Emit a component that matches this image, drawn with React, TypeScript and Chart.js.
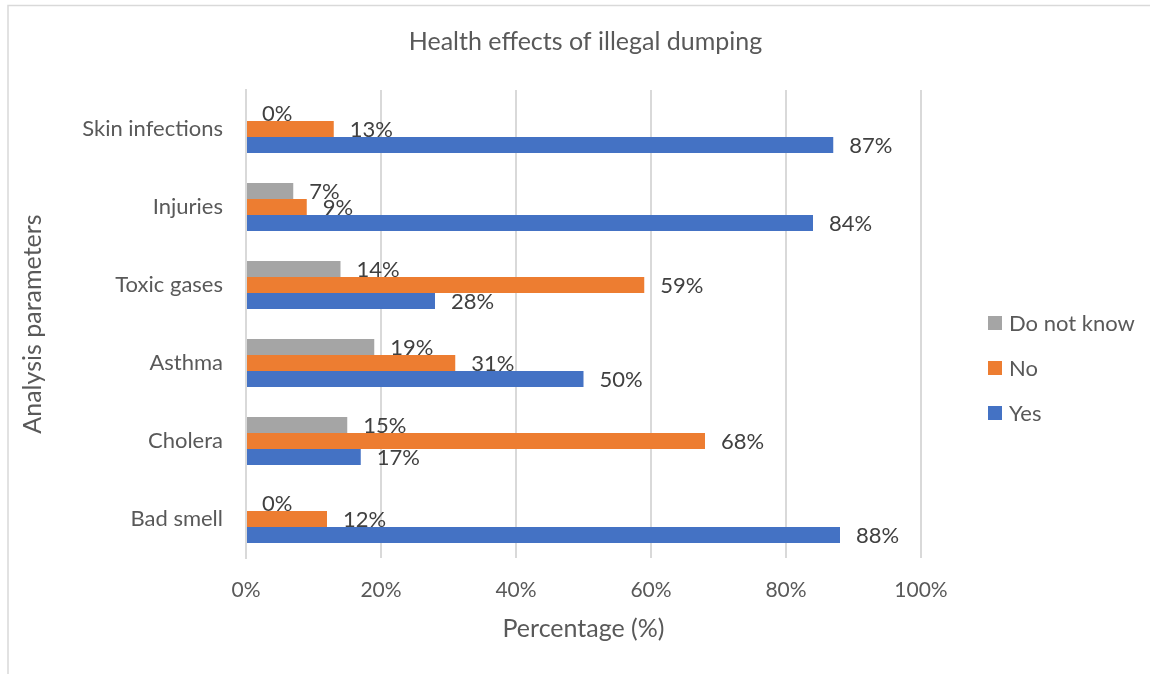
import React, { useEffect, useRef } from "react";
import { Chart, registerables } from "chart.js";

Chart.register(...registerables);

const categories = ["Skin infections", "Injuries", "Toxic gases", "Asthma", "Cholera", "Bad smell"];
const doNotKnow = [0, 7, 14, 19, 15, 0];
const noValues = [13, 9, 59, 31, 68, 12];
const yesValues = [87, 84, 28, 50, 17, 88];
const xTicks = [0, 20, 40, 60, 80, 100];

const FONT = "Lato, 'Open Sans', sans-serif";
const TEXT = "#595959";
const GRID = "#d9d9d9";

// Value labels just past the end of each bar
const valueLabels = {
  id: "valueLabels",
  afterDatasetsDraw(chart: any) {
    const { ctx } = chart;
    ctx.save();
    ctx.font = `22px ${FONT}`;
    ctx.fillStyle = "#404040";
    ctx.textAlign = "left";
    ctx.textBaseline = "middle";
    chart.data.datasets.forEach((ds: any, i: number) => {
      const meta = chart.getDatasetMeta(i);
      meta.data.forEach((bar: any, j: number) => {
        ctx.fillText(`${ds.data[j]}%`, bar.x + 16, bar.y + 1);
      });
    });
    ctx.restore();
  },
};

// Title, legend and outer frame
const decorations = {
  id: "decorations",
  beforeDraw(chart: any) {
    const { ctx, width, height } = chart;
    ctx.save();
    ctx.fillStyle = "#ffffff";
    ctx.fillRect(0, 0, width, height);
    ctx.strokeStyle = GRID;
    ctx.lineWidth = 1.5;
    ctx.beginPath();
    ctx.moveTo(8, height);
    ctx.lineTo(8, 5.5);
    ctx.lineTo(width, 5.5);
    ctx.stroke();
    ctx.restore();
  },
  afterDraw(chart: any) {
    const { ctx, chartArea } = chart;
    ctx.save();
    ctx.fillStyle = TEXT;
    ctx.font = `25px ${FONT}`;
    ctx.textAlign = "center";
    ctx.textBaseline = "middle";
    ctx.fillText("Health effects of illegal dumping", (chartArea.left + chartArea.right) / 2 + 2, 42);

    ctx.font = `22px ${FONT}`;
    ctx.textAlign = "left";
    const items = chart.data.datasets;
    items.forEach((ds: any, i: number) => {
      const y = 323 + i * 45;
      ctx.fillStyle = ds.backgroundColor;
      ctx.fillRect(988, y - 7, 14, 14);
      ctx.fillStyle = TEXT;
      ctx.fillText(ds.label, 1009, y + 1);
    });
    ctx.restore();
  },
};

export default function App() {
  const canvasRef = useRef<HTMLCanvasElement>(null);

  useEffect(() => {
    if (!canvasRef.current) return;
    const chart = new Chart(canvasRef.current, {
      type: "bar",
      data: {
        labels: categories,
        datasets: [
          { label: "Do not know", data: doNotKnow, backgroundColor: "#a5a5a5" },
          { label: "No", data: noValues, backgroundColor: "#ed7d31" },
          { label: "Yes", data: yesValues, backgroundColor: "#4472c4" },
        ],
      },
      options: {
        indexAxis: "y",
        responsive: false,
        animation: false,
        devicePixelRatio: 1,
        layout: { padding: { left: 0, right: 229, top: 90, bottom: 0 } },
        datasets: { bar: { categoryPercentage: 0.615, barPercentage: 1 } },
        plugins: {
          legend: { display: false },
          title: { display: false },
          tooltip: { enabled: false },
        },
        scales: {
          x: {
            min: 0,
            max: 100,
            afterBuildTicks(scale: any) {
              scale.ticks = xTicks.map((v) => ({ value: v }));
            },
            afterFit(scale: any) {
              scale.height = 116;
            },
            grid: { color: GRID, lineWidth: 2, drawTicks: false },
            border: { display: false },
            ticks: {
              padding: 20,
              color: TEXT,
              font: { family: FONT, size: 21 },
              callback: (v: any) => `${v}%`,
            },
            title: {
              display: true,
              text: "Percentage (%)",
              color: TEXT,
              font: { family: FONT, size: 25 },
              padding: { top: 0, bottom: 30 },
            },
          },
          y: {
            afterFit(scale: any) {
              scale.width = 246;
            },
            grid: { display: false },
            border: { color: GRID, width: 2 },
            ticks: {
              padding: 15,
              color: TEXT,
              font: { family: FONT, size: 22 },
            },
            title: {
              display: true,
              text: "Analysis parameters",
              color: TEXT,
              font: { family: FONT, size: 25 },
              padding: { top: 18, bottom: 0 },
            },
          },
        },
      },
      plugins: [decorations, valueLabels],
    });
    return () => chart.destroy();
  }, []);

  return (
    <canvas
      ref={canvasRef}
      width={1150}
      height={674}
      style={{ position: "fixed", left: 0, top: 0, width: 1150, height: 674 }}
    />
  );
}
